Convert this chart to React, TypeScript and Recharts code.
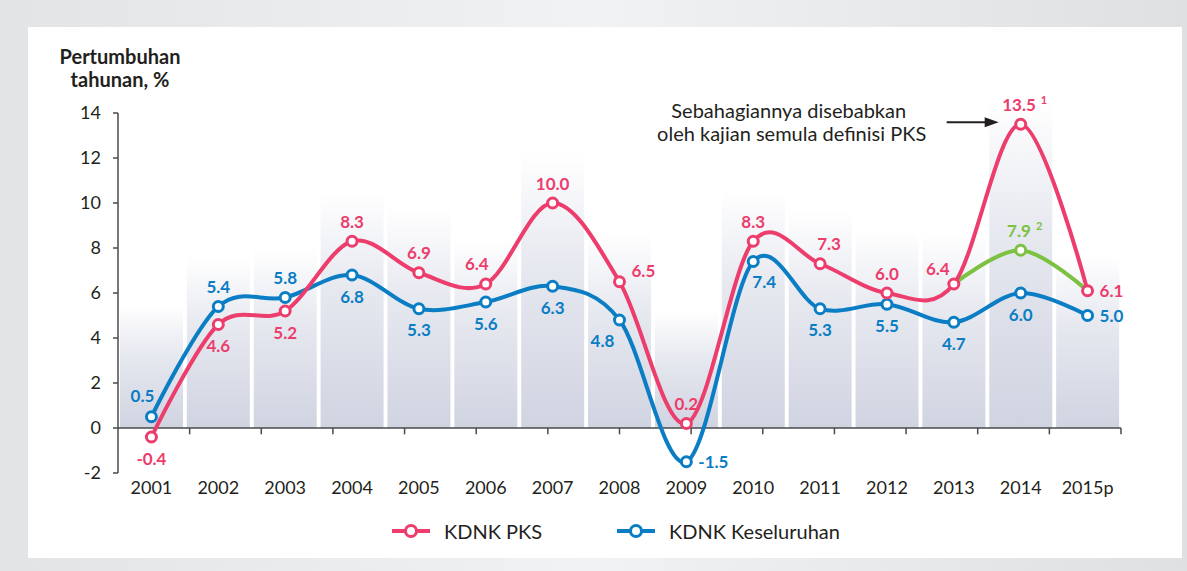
import React from 'react'
import {
  ComposedChart,
  Bar,
  Line,
  XAxis,
  YAxis,
  ReferenceLine,
  ReferenceDot,
  LabelList,
} from 'recharts'

const years = ['2001', '2002', '2003', '2004', '2005', '2006', '2007', '2008', '2009', '2010', '2011', '2012', '2013', '2014', '2015p']
const kdnkPks = [-0.4, 4.6, 5.2, 8.3, 6.9, 6.4, 10.0, 6.5, 0.2, 8.3, 7.3, 6.0, 6.4, 13.5, 6.1]
const kdnkKeseluruhan = [0.5, 5.4, 5.8, 6.8, 5.3, 5.6, 6.3, 4.8, -1.5, 7.4, 5.3, 5.5, 4.7, 6.0, 5.0]
const kdnkPksRevised = [null, null, null, null, null, null, null, null, null, null, null, null, 6.4, 7.9, 6.1]
const backdrop = [5.5, 7.6, 8.0, 10.5, 9.8, 8.4, 12.2, 8.7, 5.2, 10.6, 9.7, 8.8, 8.7, 14.6, 7.7]
const yTicks = [-2, 0, 2, 4, 6, 8, 10, 12, 14]
const pksNotes: Record<number, string> = { 13: '1' }
const revisedNotes: Record<number, string> = { 13: '2' }

const PINK = '#ec3d6c'
const BLUE = '#0a7dc4'
const GREEN = '#7cc142'
const INK = '#231f20'
const AXIS = '#4a4a4a'

// where each value label sits around its point
const pksPlace = ['bottom', 'bottom', 'bottom', 'top', 'top', 'topLeft', 'top', 'rightUp', 'top', 'top', 'topRight', 'top', 'upLeft', 'top', 'right']
const totalPlace = ['topLeft', 'top', 'top', 'bottom', 'bottom', 'bottom', 'bottom', 'bottomLeft', 'right', 'bottomRight', 'bottom', 'bottom', 'bottom', 'bottom', 'right']
const revisedPlace = [null, null, null, null, null, null, null, null, null, null, null, null, null, 'top', null]

const offsets: Record<string, [number, number, 'middle' | 'start']> = {
  top: [0, -20, 'middle'],
  bottom: [0, 21, 'middle'],
  topLeft: [-9, -21, 'middle'],
  upLeft: [-16, -16, 'middle'],
  topRight: [9, -20, 'middle'],
  bottomLeft: [-17, 20, 'middle'],
  bottomRight: [11, 20, 'middle'],
  right: [12, 0, 'start'],
  rightUp: [12, -11, 'start'],
}

const W = 1187
const H = 571
const plotBottom = 473
const pxPerUnit = 22.5
const topMargin = plotBottom - pxPerUnit * (Math.max(...backdrop) - yTicks[0])

const chartData = years.map((year, i) => ({
  year,
  pks: kdnkPks[i],
  total: kdnkKeseluruhan[i],
  revised: kdnkPksRevised[i],
  backdrop: backdrop[i],
}))

// plain Catmull-Rom (cardinal, tension 0) smoothing, like the original chart
function smoothCurve(context: any) {
  const k = 1 / 6
  let n = 0
  let x0 = NaN, y0 = NaN, x1 = NaN, y1 = NaN, x2 = NaN, y2 = NaN
  const seg = (x: number, y: number) =>
    context.bezierCurveTo(x1 + k * (x2 - x0), y1 + k * (y2 - y0), x2 + k * (x1 - x), y2 + k * (y1 - y), x2, y2)
  return {
    areaStart() {},
    areaEnd() {},
    lineStart() {
      n = 0
      x0 = x1 = x2 = y0 = y1 = y2 = NaN
    },
    lineEnd() {
      if (n === 2) context.lineTo(x2, y2)
      else if (n === 3) seg(x1, y1)
    },
    point(x: number, y: number) {
      x = +x
      y = +y
      if (n === 0) {
        n = 1
        context.moveTo(x, y)
      } else if (n === 1) {
        n = 2
        x1 = x
        y1 = y
      } else {
        n = 3
        seg(x, y)
      }
      x0 = x1; x1 = x2; x2 = x
      y0 = y1; y1 = y2; y2 = y
    },
  }
}

function makeLabel(color: string, places: (string | null)[], notes: Record<number, string>) {
  return (props: any) => {
    const { index, value } = props
    const place = places[index]
    if (place == null || value == null) return null
    const x = props.x ?? props.viewBox?.x
    const y = props.y ?? props.viewBox?.y
    const [dx, dy, anchor] = offsets[place]
    const note = notes[index]
    return (
      <text
        x={x + dx + (note ? 4 : 0)}
        y={y + dy}
        textAnchor={anchor}
        dominantBaseline="central"
        fill={color}
        fontSize={17}
        fontWeight={700}
      >
        {Number(value).toFixed(1)}
        {note && (
          <tspan dx={5} dy={-5} fontSize={11}>
            {note}
          </tspan>
        )}
      </text>
    )
  }
}

function Annotation(props: any) {
  const vb = props.viewBox || {}
  const cx = vb.x + (vb.width || 0) / 2
  const cy = vb.y + (vb.height || 0) / 2
  return (
    <g>
      <text x={cx - 232} y={cy - 6} textAnchor="middle" fill={INK} fontSize={20}>
        Sebahagiannya disebabkan
      </text>
      <text x={cx - 229} y={cy + 17} textAnchor="middle" fill={INK} fontSize={20}>
        oleh kajian semula definisi PKS
      </text>
      <line x1={cx - 74} x2={cx - 34} y1={cy - 2} y2={cy - 2} stroke={INK} strokeWidth={2} />
      <path d={`M${cx - 22},${cy - 2} L${cx - 36},${cy - 7} L${cx - 36},${cy + 3} Z`} fill={INK} />
    </g>
  )
}

function ringDot(color: string, only?: number) {
  return (props: any) => {
    const { cx, cy, index } = props
    if (cx == null || cy == null || (only != null && index !== only)) return <g key={`d-${index}`} />
    return <circle key={`d-${index}`} cx={cx} cy={cy} r={5} fill="#fff" stroke={color} strokeWidth={3} />
  }
}

function LegendIcon({ color }: { color: string }) {
  return (
    <svg width={40} height={16} style={{ display: 'block' }}>
      <line x1={1} x2={39} y1={8} y2={8} stroke={color} strokeWidth={4} />
      <circle cx={20} cy={8} r={5.5} fill="#fff" stroke={color} strokeWidth={3} />
    </svg>
  )
}

export default function App() {
  const boundaries = years.map((_, i) => i + 1)
  return (
    <div
      style={{
        position: 'absolute',
        left: 0,
        top: 0,
        width: W,
        height: H,
        background: 'linear-gradient(90deg, #e3e4e6 0%, #f1f2f4 50%, #dfe0e2 100%)',
        fontFamily: 'Lato, "Open Sans", sans-serif',
        color: INK,
      }}
    >
      <div style={{ position: 'absolute', left: 28, top: 27, width: 1154, height: 531, background: '#fff' }} />

      <div
        style={{
          position: 'absolute',
          left: 20,
          top: 45,
          width: 200,
          textAlign: 'center',
          fontSize: 20,
          lineHeight: '23px',
          fontWeight: 700,
        }}
      >
        Pertumbuhan
        <br />
        tahunan, %
      </div>

      <div style={{ position: 'absolute', left: 0, top: 0 }}>
        <ComposedChart
          width={W}
          height={H}
          data={chartData}
          margin={{ top: topMargin, right: 66, bottom: H - plotBottom - 30, left: 58 }}
        >
          <defs>
            <linearGradient id="barFade" x1="0" y1="0" x2="0" y2="1">
              <stop offset="0%" stopColor="#ffffff" />
              <stop offset="40%" stopColor="#e7e9f0" />
              <stop offset="100%" stopColor="#d0d4e1" />
            </linearGradient>
          </defs>
          <XAxis
            dataKey="year"
            height={30}
            axisLine={false}
            tickLine={false}
            tickSize={0}
            tickMargin={8}
            interval={0}
            tick={{ fill: INK, fontSize: 18 }}
          />
          <XAxis xAxisId="edge" type="number" domain={[0, years.length]} allowDataOverflow hide />
          <YAxis
            domain={[yTicks[0], 'dataMax']}
            ticks={yTicks}
            interval={0}
            width={60}
            axisLine={false}
            tickSize={5}
            tickMargin={12}
            tickLine={{ stroke: AXIS, strokeWidth: 1.5 }}
            tick={{ fill: INK, fontSize: 18 }}
          />
          <Bar dataKey="backdrop" fill="url(#barFade)" barSize={63} isAnimationActive={false} />
          <ReferenceLine y={0} stroke={AXIS} strokeWidth={1.5} />
          <ReferenceLine
            xAxisId="edge"
            segment={[{ x: 0, y: yTicks[0] }, { x: 0, y: yTicks[yTicks.length - 1] }]}
            stroke={AXIS}
            strokeWidth={1.5}
          />
          {boundaries.map((b) => (
            <ReferenceLine
              key={`edge-${b}`}
              xAxisId="edge"
              segment={[{ x: b, y: 0 }, { x: b, y: -0.28 }]}
              stroke={AXIS}
              strokeWidth={1.5}
            />
          ))}
          <Line
            dataKey="total"
            type={smoothCurve as any}
            stroke={BLUE}
            strokeWidth={4}
            dot={ringDot(BLUE)}
            activeDot={false}
            isAnimationActive={false}
          >
            <LabelList dataKey="total" content={makeLabel(BLUE, totalPlace, {})} />
          </Line>
          <Line
            dataKey="revised"
            type={smoothCurve as any}
            stroke={GREEN}
            strokeWidth={4}
            dot={ringDot(GREEN, 13)}
            activeDot={false}
            isAnimationActive={false}
          >
            <LabelList dataKey="revised" content={makeLabel(GREEN, revisedPlace, revisedNotes)} />
          </Line>
          <Line
            dataKey="pks"
            type={smoothCurve as any}
            stroke={PINK}
            strokeWidth={4}
            dot={ringDot(PINK)}
            activeDot={false}
            isAnimationActive={false}
          >
            <LabelList dataKey="pks" content={makeLabel(PINK, pksPlace, pksNotes)} />
          </Line>
          <ReferenceDot x={years[13]} y={kdnkPks[13]} r={0} fill="none" stroke="none" label={<Annotation />} />
        </ComposedChart>
      </div>

      <div style={{ position: 'absolute', left: 391, top: 519, display: 'flex', alignItems: 'center', fontSize: 20 }}>
        <LegendIcon color={PINK} />
        <span style={{ marginLeft: 13 }}>KDNK PKS</span>
      </div>
      <div style={{ position: 'absolute', left: 616, top: 519, display: 'flex', alignItems: 'center', fontSize: 20 }}>
        <LegendIcon color={BLUE} />
        <span style={{ marginLeft: 13 }}>KDNK Keseluruhan</span>
      </div>
    </div>
  )
}
